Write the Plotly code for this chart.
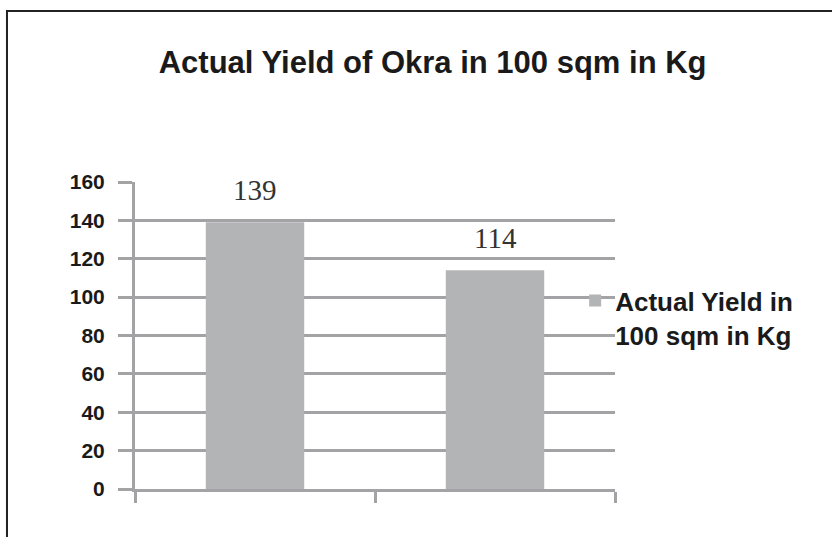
import plotly.graph_objects as go

categories = ["A", "B"]
values = [139, 114]
series_name = "Actual Yield in<br>100 sqm in Kg"
title_text = "Actual Yield of Okra in 100 sqm in Kg"
y_ticks = [0, 20, 40, 60, 80, 100, 120, 140, 160]

GRID = "#a3a3a5"
BAR = "#b3b4b6"

fig = go.Figure()
fig.add_trace(go.Bar(
    x=categories, y=values, name=series_name,
    marker=dict(color=BAR, line=dict(width=0)),
    width=0.41,
))

for c, v in zip(categories, values):
    fig.add_annotation(
        x=c, y=v, text=str(v), showarrow=False,
        yanchor="middle", yshift=32,
        font=dict(family="Liberation Serif, DejaVu Serif, serif", size=29, color="#333333"),
    )

fig.add_shape(type="rect", xref="paper", yref="paper",
              x0=-0.2667, x1=1.5, y0=-0.3, y1=1.557,
              line=dict(color="#222222", width=2), fillcolor="rgba(0,0,0,0)", layer="below")

fig.update_layout(
    width=832, height=537,
    margin=dict(l=135, r=217, t=182, b=48),
    paper_bgcolor="white", plot_bgcolor="white",
    title=dict(text=title_text, x=0.52, xref="container", xanchor="center",
               y=1 - 62 / 537, yref="container", yanchor="middle",
               font=dict(family="Liberation Sans, Arial, sans-serif",
                         size=31, color="#1a1a1a", weight="bold")),
    showlegend=True,
    legend=dict(x=0.917, xanchor="left", y=0.69, yanchor="top", valign="top",
                bgcolor="rgba(0,0,0,0)",
                font=dict(family="Liberation Sans, Arial, sans-serif", size=26, color="#1a1a1a", weight="bold")),
)

fig.update_xaxes(
    type="category", range=[-0.5, 1.5],
    showline=True, linecolor=GRID, linewidth=3,
    ticks="outside", tickson="boundaries", ticklen=11, tickcolor=GRID, tickwidth=3,
    showticklabels=False, showgrid=False, zeroline=False,
)
fig.update_yaxes(
    range=[0, 160], tickvals=y_ticks,
    showline=True, linecolor=GRID, linewidth=3,
    ticks="outside", ticklen=14, tickcolor=GRID, tickwidth=3,
    showgrid=True, gridcolor=GRID, gridwidth=3, zeroline=False,
    ticklabelstandoff=9,
    tickfont=dict(family="Liberation Sans, Arial, sans-serif", size=21, color="#1a1a1a", weight="bold"),
)

fig.write_html("out.html", config={"displayModeBar": False},
               post_script="document.body.style.margin='0';")
